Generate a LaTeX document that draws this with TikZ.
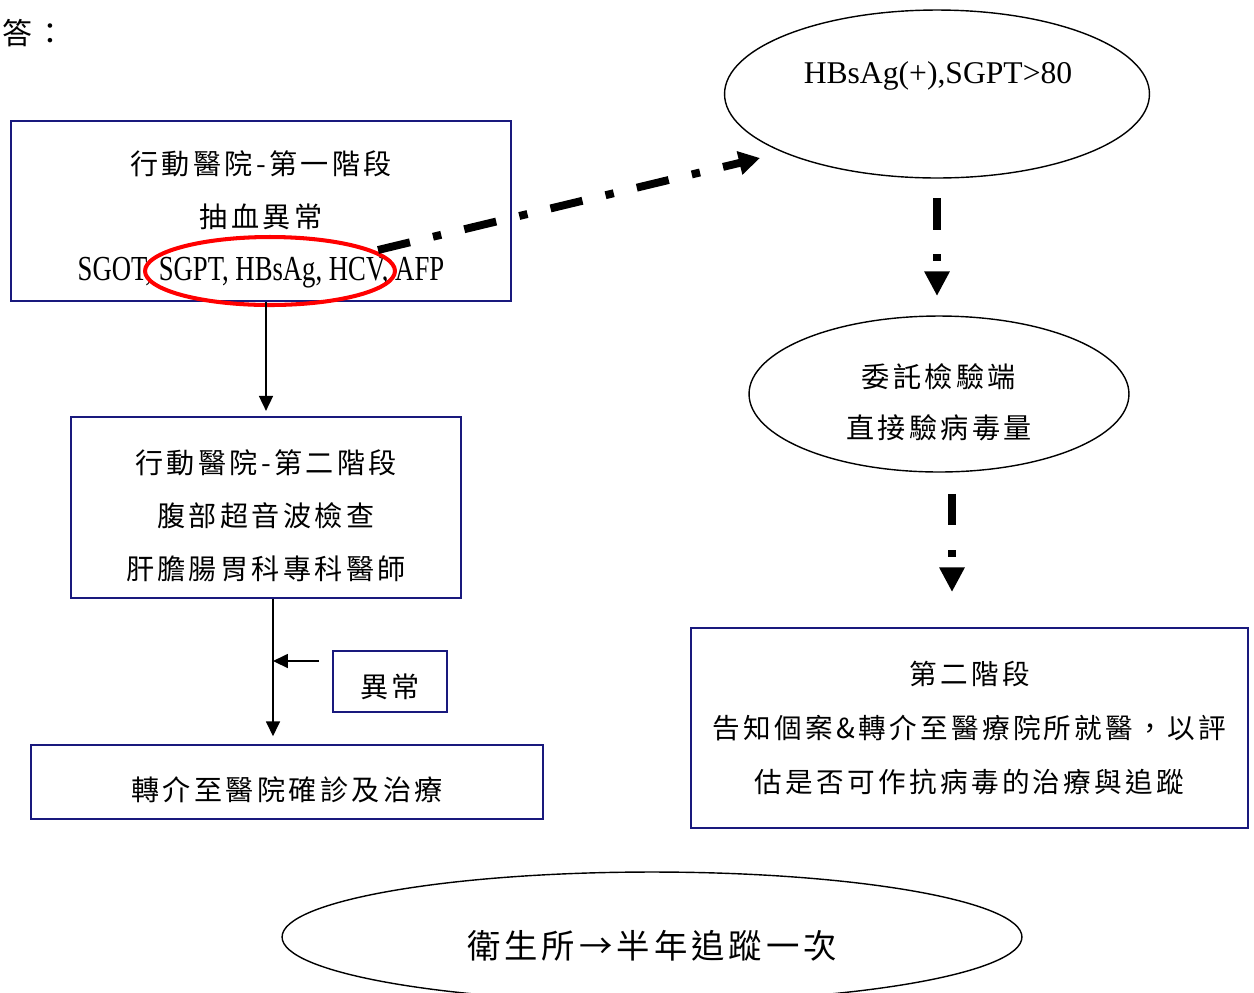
\documentclass[tikz,border=0pt]{standalone}
\usepackage{fontspec}
\usepackage{graphicx}
\setmainfont{Liberation Serif}
\newfontfamily\kai[LetterSpace=12]{Noto Sans CJK TC}
\usetikzlibrary{arrows.meta,shapes.geometric}
\definecolor{boxblue}{RGB}{25,25,125}
\newcommand{\topstrut}{\rule{0pt}{23pt}}
\begin{document}
\begin{tikzpicture}
[x=0.02cm,y=-0.02cm,
box/.style={draw=boxblue,line width=1pt,align=center,font=\kai\fontsize{16}{30}\selectfont},
sunk/.style={execute at begin node=\rule{0pt}{#1}},
oval/.style={draw,ellipse,line width=0.8pt,inner sep=0pt},
thin/.style={line width=0.8pt,-{Triangle[length=8.5pt,width=8pt]}},
dashdot/.style={line width=4.5pt,dash pattern=on 18.7pt off 13.5pt on 4.8pt off 13.5pt,-{Triangle[length=12pt,width=13pt]}},
dotdash/.style={line width=4pt,dash pattern=on 18pt off 14pt on 4pt off 14pt,-{Triangle[length=14pt,width=13.6pt]}}]
	\useasboundingbox (0,0) rectangle (1254,992);
	\clip (0,0) rectangle (1254,992);
	% left column
	\node[anchor=west,font=\kai\fontsize{17}{17}\selectfont] (ans) at (-4,33) {答：};
	\node[box,minimum width=10cm,minimum height=3.6cm] (b1) at (261,211)
		{\topstrut 行動醫院-第一階段\\抽血異常\\{\rmfamily\fontsize{20}{30}\selectfont\scalebox{0.76}[1]{SGOT, SGPT, HBsAg, HCV, AFP}}};
	\node[draw=red,line width=2.3pt,ellipse,minimum width=5cm,minimum height=1.36cm] (re) at (270,271) {};
	\node[box,minimum width=7.8cm,minimum height=3.62cm] (b2) at (266,507.5)
		{\topstrut 行動醫院-第二階段\\腹部超音波檢查\\肝膽腸胃科專科醫師};
	\node[box,sunk=20pt,minimum width=2.28cm,minimum height=1.22cm] (ab) at (390,681.5) {異常};
	\node[box,sunk=22pt,minimum width=10.24cm,minimum height=1.48cm] (b3) at (287,782) {轉介至醫院確診及治療};
	% right column
	\node[oval,minimum width=8.5cm,minimum height=3.36cm] (e1) at (937,94) {};
	\node[font=\fontsize{18}{18}\selectfont] (e1t) at (938,76) {HBsAg(+),SGPT>80};
	\node[oval,minimum width=7.6cm,minimum height=3.12cm,align=center,font=\kai\fontsize{16}{29}\selectfont] (e2) at (939,394)
		{\topstrut 委託檢驗端\\直接驗病毒量};
	\node[box,minimum width=11.14cm,minimum height=4cm,font=\kai\fontsize{15.7}{30.5}\selectfont] (rb) at (969.5,728)
		{第二階段\\告知個案\&轉介至醫療院所就醫，以評\\估是否可作抗病毒的治療與追蹤};
	\node[oval,sunk=26pt,minimum width=14.8cm,minimum height=2.6cm,font=\kai\fontsize{19}{19}\selectfont] (fu) at (652,937)
		{衛生所→半年追蹤一次};
	% connectors
	\coordinate (j) at (273,661);
	\coordinate (ds) at (378,250);
	\coordinate (de) at (760,158);
	\coordinate (e2s) at ([xshift=0.26cm]e2.south);
	\draw[thin,shorten >=3pt] (b1.south -| b2) -- (b2.north);
	\draw[thin,shorten >=4.5pt] (b2.south -| j) -- (b3.north -| j);
	\draw[thin,shorten <=0.26cm] (ab.west |- j) -- (j);
	\draw[dashdot] (ds) -- (de);
	\draw[dotdash,shorten <=11pt,shorten >=11pt] (e1.south) -- (e1.south |- e2.north);
	\draw[dotdash,shorten <=12pt,shorten >=20pt] (e2s) -- (e2s |- rb.north);
\end{tikzpicture}
\end{document}
